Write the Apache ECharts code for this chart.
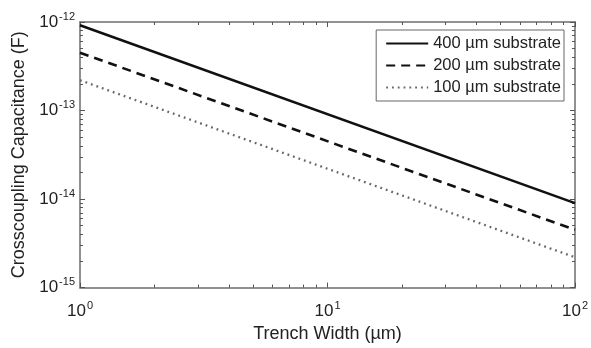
<!DOCTYPE html>
<html>
<head>
<meta charset="utf-8">
<script src="https://cdn.jsdelivr.net/npm/echarts@6/dist/echarts.min.js"></script>
<style>
  html, body { margin: 0; padding: 0; background: #fff; }
  #chart { width: 591px; height: 348px; }
</style>
</head>
<body>
<div id="chart"></div>
<script>
// trench width (um), endpoints of each straight log-log line
const widths = [1, 100];
const cap400 = [9.2e-13, 9.0e-15];
const cap200 = [4.5e-13, 4.5e-15];
const cap100 = [2.2e-13, 2.2e-15];
const seriesNames = ['400 \u00b5m substrate', '200 \u00b5m substrate', '100 \u00b5m substrate'];

const xMinor = [2, 3, 4, 5, 6, 7, 8, 9, 20, 30, 40, 50, 60, 70, 80, 90];
const yMinor = [];
[1e-15, 1e-14, 1e-13].forEach(function (d) {
  for (let k = 2; k <= 9; k++) yMinor.push(k * d);
});

const font = 'Liberation Sans, Arial, sans-serif';
const frameColor = '#8a8a8a';

function powLabel(v) {
  const e = Math.round(Math.log10(v));
  return '{b|10}{e|' + e + '}';
}
const labelRich = {
  b: { fontSize: 17, color: '#222', fontFamily: font },
  e: { fontSize: 11, color: '#222', fontFamily: font, padding: [0, 0, 11, 1] }
};

function pairs(ys) {
  return widths.map(function (w, i) { return [w, ys[i]]; });
}

const chart = echarts.init(document.getElementById('chart'));

const baseX = {
  type: 'log', logBase: 10, min: 1, max: 100,
  axisLine: { show: true, onZero: false, lineStyle: { color: frameColor, width: 1.5 } },
  axisTick: { show: true, inside: true, length: 5, lineStyle: { color: '#555' } },
  minorTick: { show: false },
  splitLine: { show: false }
};
const baseY = {
  type: 'log', logBase: 10, min: 1e-15, max: 1e-12,
  axisLine: { show: true, onZero: false, lineStyle: { color: frameColor, width: 1.5 } },
  axisTick: { show: true, inside: true, length: 5, lineStyle: { color: '#555' } },
  minorTick: { show: false },
  splitLine: { show: false }
};

chart.setOption({
  animation: false,
  backgroundColor: '#fff',
  grid: { left: 80, right: 15, top: 22, bottom: 56 },
  legend: {
    orient: 'vertical',
    right: 27, top: 30,
    padding: [5, 3, 5, 9],
    itemGap: 5,
    itemWidth: 42, itemHeight: 14,
    borderColor: '#666', borderWidth: 1,
    backgroundColor: '#fff',
    itemStyle: { opacity: 0 },
    textStyle: { fontSize: 16.5, color: '#222', fontFamily: font },
    data: seriesNames
  },
  xAxis: [
    Object.assign({}, baseX, {
      position: 'bottom',
      name: 'Trench Width (\u00b5m)',
      nameLocation: 'middle', nameGap: 36,
      nameTextStyle: { fontSize: 18, color: '#222', fontFamily: font },
      axisLabel: { formatter: powLabel, rich: labelRich, margin: 13 }
    }),
    Object.assign({}, baseX, { position: 'top', axisLabel: { show: false } }),
    Object.assign({}, baseX, {
      position: 'bottom', axisLabel: { show: false },
      axisTick: { show: true, inside: true, length: 3, customValues: xMinor, lineStyle: { color: '#555' } }
    }),
    Object.assign({}, baseX, {
      position: 'top', axisLabel: { show: false },
      axisTick: { show: true, inside: true, length: 3, customValues: xMinor, lineStyle: { color: '#555' } }
    })
  ],
  yAxis: [
    Object.assign({}, baseY, {
      position: 'left',
      name: 'Crosscoupling Capacitance (F)',
      nameLocation: 'middle', nameGap: 52, nameRotate: 90,
      nameTextStyle: { fontSize: 18, color: '#222', fontFamily: font },
      axisLabel: { formatter: powLabel, rich: labelRich, margin: 5 }
    }),
    Object.assign({}, baseY, { position: 'right', axisLabel: { show: false } }),
    Object.assign({}, baseY, {
      position: 'left', axisLabel: { show: false },
      axisTick: { show: true, inside: true, length: 3, customValues: yMinor, lineStyle: { color: '#555' } }
    }),
    Object.assign({}, baseY, {
      position: 'right', axisLabel: { show: false },
      axisTick: { show: true, inside: true, length: 3, customValues: yMinor, lineStyle: { color: '#555' } }
    })
  ],
  series: [
    {
      name: seriesNames[0], type: 'line', symbol: 'none',
      lineStyle: { color: '#111', width: 2.6, type: 'solid' },
      data: pairs(cap400)
    },
    {
      name: seriesNames[1], type: 'line', symbol: 'none',
      lineStyle: { color: '#111', width: 2.6, type: [9, 6] },
      data: pairs(cap200)
    },
    {
      name: seriesNames[2], type: 'line', symbol: 'none',
      lineStyle: { color: '#666', width: 2.3, type: [1.8, 4] },
      data: pairs(cap100)
    }
  ]
});
</script>
</body>
</html>
